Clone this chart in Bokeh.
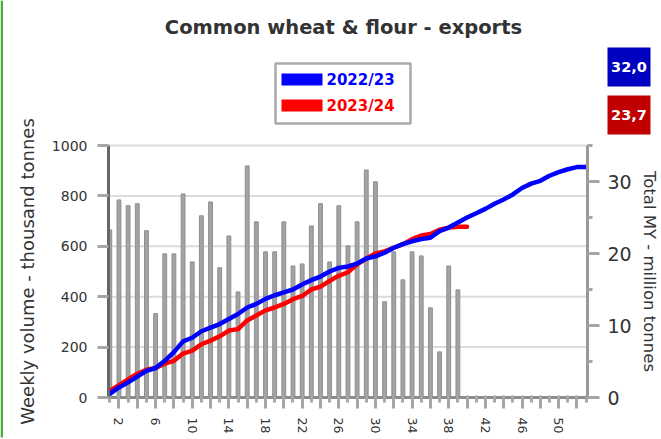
from bokeh.plotting import figure
from bokeh.models import Range1d, LinearAxis, FixedTicker, BoxAnnotation, Label
from bokeh.embed import file_html
from bokeh.resources import INLINE

# ---------------- data ----------------
weeks_bars = list(range(1, 40))
weekly_2023_24 = [665, 784, 761, 769, 662, 333, 570, 570, 808, 538,
                  721, 776, 515, 641, 419, 919, 697, 578, 578, 697,
                  522, 530, 681, 769, 538, 761, 602, 697, 903, 856,
                  380, 578, 467, 578, 562, 356, 181, 522, 427]

weeks_blue = list(range(1, 54))
total_2022_23 = [0.5, 1.4, 2.1, 2.9, 3.7, 4.1, 5.1, 6.3, 7.8, 8.3,
                 9.2, 9.7, 10.2, 10.9, 11.6, 12.5, 13.0, 13.7, 14.2, 14.6,
                 15.0, 15.7, 16.3, 16.8, 17.5, 18.0, 18.2, 18.6, 19.3, 19.6,
                 20.1, 20.8, 21.3, 21.7, 22.0, 22.2, 23.1, 23.6, 24.3, 25.0,
                 25.6, 26.2, 26.9, 27.5, 28.2, 29.1, 29.7, 30.1, 30.8, 31.3,
                 31.7, 32.0, 32.0]

weeks_red = list(range(1, 41))
total_2023_24 = [0.9, 1.7, 2.5, 3.3, 3.85, 4.1, 4.7, 5.1, 6.1, 6.5,
                 7.4, 7.9, 8.5, 9.3, 9.5, 10.7, 11.4, 12.1, 12.5, 13.0,
                 13.65, 14.1, 15.0, 15.4, 16.2, 16.9, 17.4, 18.5, 19.3, 20.0,
                 20.3, 20.8, 21.3, 22.0, 22.5, 22.7, 23.3, 23.6, 23.7, 23.7]

series_names = ["2022/23", "2023/24"]
final_totals = ["32,0", "23,7"]
title_text = "Common wheat & flour - exports"
left_title = "Weekly volume - thousand tonnes"
right_title = "Total MY - million tonnes"

left_ticks = [0, 200, 400, 600, 800, 1000]
right_ticks = [0, 10, 20, 30]
right_minor = [5, 15, 25, 35]
x_major = list(range(2, 53, 2))
x_minor = list(range(1, 54, 2))
x_labelled = list(range(2, 53, 4))

# ---------------- layout (pixel geometry of the page) ----------------
W, H = 661, 439
X0, X1 = 0.86, 53.15          # x data at frame-left / frame-right
Y_MAX, R_MAX = 1000, 35       # left / right axis tops
FX0, FX1, FYB, FYT = 108, 587, 397, 145
KX = (FX1 - FX0) / (X1 - X0)  # px per week
KY = (FYB - FYT) / Y_MAX      # px per thousand tonnes


def dx(px):
    return X0 + (px - FX0) / KX


def dy(py):
    return (FYB - py) / KY


FONT = "DejaVu Sans"
TXT = "#333333"

p = figure(width=W, height=H, output_backend="svg", toolbar_location=None,
           x_range=Range1d(dx(0), dx(W)), y_range=Range1d(dy(H), dy(0)),
           min_border_left=0, min_border_right=0,
           min_border_top=0, min_border_bottom=0)
p.extra_y_ranges = {"total": Range1d(dy(H) * R_MAX / Y_MAX, dy(0) * R_MAX / Y_MAX)}
p.outline_line_color = None
p.xgrid.visible = False
p.ygrid.visible = False

# horizontal grid lines (span of the plot area only)
p.segment(x0=[X0] * len(left_ticks), x1=[X1] * len(left_ticks),
          y0=left_ticks, y1=left_ticks, line_color="#dcdcdc", line_width=2)

# x axis
xa = p.xaxis[0]
xa.fixed_location = 0
xa.bounds = (X0, X1)
xa.ticker = FixedTicker(ticks=x_major, minor_ticks=x_minor)
xa.major_label_overrides = {w: ("" if w not in x_labelled else str(w)) for w in x_major}
xa.major_label_orientation = "vertical"
xa.major_label_text_font = FONT
xa.major_label_text_font_size = "12.5px"
xa.major_label_text_color = TXT
xa.major_label_standoff = 9
xa.major_tick_out = 11
xa.major_tick_in = 2
xa.minor_tick_out = 5
xa.minor_tick_in = 2
xa.major_tick_line_color = "#a6a6a6"
xa.minor_tick_line_color = "#a6a6a6"
xa.major_tick_line_width = 3
xa.minor_tick_line_width = 3
xa.axis_line_color = "#8c8c8c"
xa.axis_line_width = 3

# left axis
ya = p.yaxis[0]
ya.fixed_location = X0
ya.bounds = (0, Y_MAX)
ya.ticker = FixedTicker(ticks=left_ticks)
ya.major_label_text_font = FONT
ya.major_label_text_font_size = "14px"
ya.major_label_text_color = TXT
ya.major_label_standoff = 10
ya.major_tick_out = 11
ya.major_tick_in = 0
ya.minor_tick_line_color = None
ya.major_tick_line_color = "#a6a6a6"
ya.major_tick_line_width = 3
ya.axis_line_color = "#666666"
ya.axis_line_width = 3
ya.axis_label = left_title
ya.axis_label_text_font = FONT
ya.axis_label_text_font_size = "18px"
ya.axis_label_text_font_style = "normal"
ya.axis_label_text_color = TXT
ya.axis_label_standoff = 11

# right axis
ra = LinearAxis(y_range_name="total", fixed_location=X1, bounds=(0, R_MAX))
ra.ticker = FixedTicker(ticks=right_ticks, minor_ticks=right_minor)
ra.major_label_text_font = FONT
ra.major_label_text_font_size = "19px"
ra.major_label_text_color = TXT
ra.major_label_standoff = 8
ra.major_tick_out = 12
ra.major_tick_in = 0
ra.minor_tick_out = 5
ra.minor_tick_in = 0
ra.major_tick_line_color = "#a6a6a6"
ra.minor_tick_line_color = "#a6a6a6"
ra.major_tick_line_width = 3
ra.minor_tick_line_width = 3
ra.axis_line_color = "#999999"
ra.axis_line_width = 3
ra.axis_label = right_title
ra.axis_label_text_font = FONT
ra.axis_label_text_font_size = "16.5px"
ra.axis_label_text_font_style = "normal"
ra.axis_label_text_color = TXT
ra.axis_label_standoff = 5
p.add_layout(ra, "right")

# bars
p.vbar(x=weeks_bars, top=weekly_2023_24, bottom=0, width=0.42,
       fill_color="#a3a3a3", line_color="#8f8f8f", line_width=1)

# cumulative lines
p.line(weeks_red, total_2023_24, y_range_name="total", line_color="#ff0000",
       line_width=4.5, line_join="round", line_cap="round")
p.line(weeks_blue, total_2022_23, y_range_name="total", line_color="#0000ff",
       line_width=4.5, line_join="round", line_cap="round")


def box(l, r, t, b, **kw):
    return BoxAnnotation(left=dx(l), right=dx(r), top=dy(t), bottom=dy(b), **kw)


def label(x, y, text, **kw):
    return Label(x=dx(x), y=dy(y), text=text, text_baseline="middle",
                 text_font=FONT, text_font_style="bold", **kw)


# green page edge
p.add_layout(box(0, 2.5, 0, 437, fill_color="#46b036", fill_alpha=1, line_color=None))

# title
p.add_layout(label(343, 27, title_text, text_align="center",
                   text_font_size="19.5px", text_color=TXT))

# legend box
p.add_layout(box(275, 410, 63, 123, fill_color="white", fill_alpha=1,
                 line_color="#aaaaaa", line_alpha=1, line_width=2.5))
p.add_layout(box(281, 322, 73, 85, fill_color="#0000ff", fill_alpha=1, line_color=None))
p.add_layout(box(281, 322, 99, 111, fill_color="#ff0000", fill_alpha=1, line_color=None))
p.add_layout(label(326, 79, series_names[0], text_align="left",
                   text_font_size="15px", text_color="#0000ff"))
p.add_layout(label(326, 105, series_names[1], text_align="left",
                   text_font_size="15px", text_color="#ff0000"))

# final total boxes
p.add_layout(box(607, 650, 47, 86, fill_color="#0000c0", fill_alpha=1, line_color=None))
p.add_layout(box(607, 650, 95, 134, fill_color="#c00000", fill_alpha=1, line_color=None))
p.add_layout(label(628.5, 66.5, final_totals[0], text_align="center",
                   text_font_size="14.5px", text_color="white"))
p.add_layout(label(628.5, 114.5, final_totals[1], text_align="center",
                   text_font_size="14.5px", text_color="white"))

open("out.html", "w").write(file_html(p, INLINE, title="Common wheat & flour - exports"))
